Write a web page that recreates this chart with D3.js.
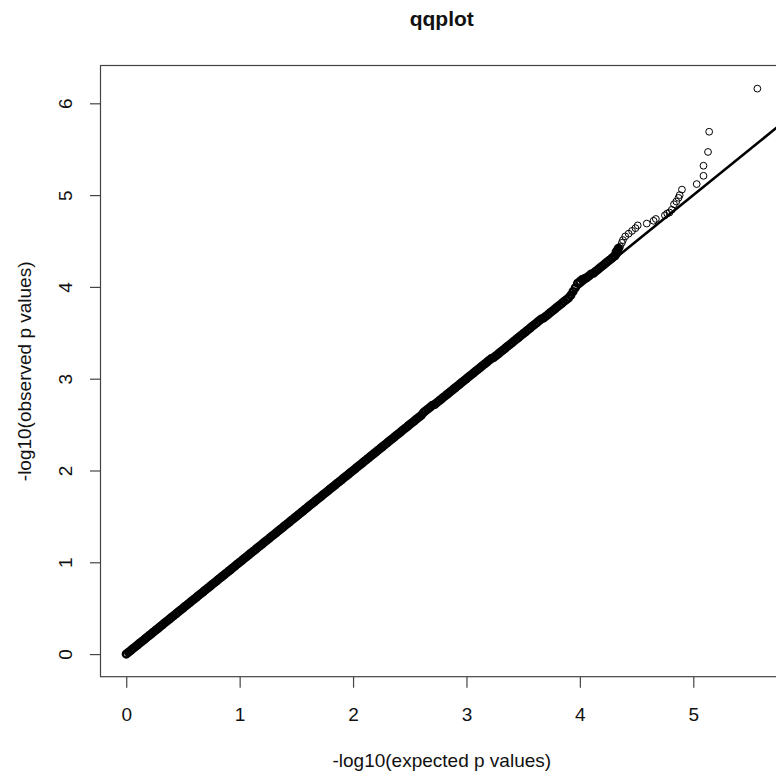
<!DOCTYPE html>
<html><head><meta charset="utf-8">
<script src="https://cdn.jsdelivr.net/npm/d3@7"></script>
<style>
body{margin:0;background:#fff}
svg{display:block}
text{font-family:"Liberation Sans",Arial,sans-serif;fill:#111}
</style>
</head><body>
<svg id="chart" width="776" height="779"></svg>
<script>
const chartTitle = "qqplot";
const xLabel = "-log10(expected p values)";
const yLabel = "-log10(observed p values)";
const xTicks = [0,1,2,3,4,5];
const yTicks = [0,1,2,3,4,5,6];
const ablineIntercept = 0;
const ablineSlope = 1;
const ablineStart = 0;

// dense part of the point cloud
const denseExpected = [
0.00,0.02,0.04,0.06,0.08,0.10,0.12,0.14,0.16,0.18,0.20,0.22,0.24,0.26,0.28,0.30,0.32,0.34,0.36,0.38,
0.40,0.42,0.44,0.46,0.48,0.50,0.52,0.54,0.56,0.58,0.60,0.62,0.64,0.66,0.68,0.70,0.72,0.74,0.76,0.78,
0.80,0.82,0.84,0.86,0.88,0.90,0.92,0.94,0.96,0.98,1.00,1.02,1.04,1.06,1.08,1.10,1.12,1.14,1.16,1.18,
1.20,1.22,1.24,1.26,1.28,1.30,1.32,1.34,1.36,1.38,1.40,1.42,1.44,1.46,1.48,1.50,1.52,1.54,1.56,1.58,
1.60,1.62,1.64,1.66,1.68,1.70,1.72,1.74,1.76,1.78,1.80,1.82,1.84,1.86,1.88,1.90,1.92,1.94,1.96,1.98,
2.00,2.02,2.04,2.06,2.08,2.10,2.12,2.14,2.16,2.18,2.20,2.22,2.24,2.26,2.28,2.30,2.32,2.34,2.36,2.38,
2.40,2.42,2.44,2.46,2.48,2.50,2.52,2.54,2.56,2.58,2.60,2.62,2.64,2.66,2.68,2.70,2.72,2.74,2.76,2.78,
2.80,2.82,2.84,2.86,2.88,2.90,2.92,2.94,2.96,2.98,3.00,3.02,3.04,3.06,3.08,3.10,3.12,3.14,3.16,3.18,
3.20,3.22,3.24,3.26,3.28,3.30,3.32,3.34,3.36,3.38,3.40,3.42,3.44,3.46,3.48,3.50,3.52,3.54,3.56,3.58,
3.60,3.62,3.64,3.66,3.68,3.70,3.72,3.74,3.76,3.78,3.80,3.82,3.84,3.86,3.88,3.90,3.92,3.94,3.96,3.98,
4.00,4.02,4.04,4.06,4.08,4.10,4.12,4.14,4.16,4.18,4.20,4.22,4.24,4.26,4.28,4.30,4.31,4.32,4.32,4.33,4.34
];
const denseObserved = [
0.00,0.02,0.04,0.06,0.08,0.10,0.12,0.14,0.16,0.18,0.20,0.22,0.24,0.26,0.28,0.30,0.32,0.34,0.36,0.38,
0.40,0.42,0.44,0.46,0.48,0.50,0.52,0.54,0.56,0.58,0.60,0.62,0.64,0.66,0.68,0.70,0.72,0.74,0.76,0.78,
0.80,0.82,0.84,0.86,0.88,0.90,0.92,0.94,0.96,0.98,1.00,1.02,1.04,1.06,1.08,1.10,1.12,1.14,1.16,1.18,
1.20,1.22,1.24,1.26,1.28,1.30,1.32,1.34,1.36,1.38,1.40,1.42,1.44,1.46,1.48,1.50,1.52,1.54,1.56,1.58,
1.60,1.62,1.64,1.66,1.68,1.70,1.72,1.74,1.76,1.78,1.80,1.82,1.84,1.86,1.88,1.90,1.92,1.94,1.96,1.98,
2.00,2.02,2.04,2.06,2.08,2.10,2.12,2.14,2.16,2.18,2.20,2.22,2.24,2.26,2.28,2.30,2.32,2.34,2.36,2.38,
2.40,2.42,2.44,2.46,2.48,2.50,2.52,2.54,2.56,2.58,2.60,2.63,2.65,2.67,2.69,2.71,2.72,2.74,2.76,2.78,
2.80,2.82,2.84,2.86,2.88,2.90,2.92,2.94,2.96,2.98,3.00,3.02,3.04,3.06,3.08,3.10,3.12,3.14,3.16,3.18,
3.20,3.22,3.23,3.25,3.27,3.29,3.31,3.33,3.35,3.37,3.39,3.41,3.43,3.45,3.47,3.49,3.51,3.53,3.55,3.57,
3.59,3.61,3.63,3.65,3.66,3.68,3.70,3.72,3.74,3.76,3.78,3.80,3.82,3.84,3.86,3.88,3.91,3.95,3.99,4.04,
4.06,4.08,4.09,4.10,4.12,4.14,4.15,4.17,4.19,4.21,4.23,4.25,4.27,4.29,4.31,4.33,4.34,4.36,4.38,4.40,4.42
];
// sparse upper tail
const tailExpected = [4.355,4.37,4.38,4.40,4.43,4.46,4.49,4.51,4.59,4.65,4.67,4.75,4.77,4.79,4.81,4.83,4.85,4.87,4.88,4.90,5.03,5.09,5.09,5.13,5.14,5.565];
const tailObserved = [4.44,4.48,4.51,4.55,4.58,4.61,4.64,4.67,4.69,4.72,4.74,4.78,4.80,4.81,4.84,4.90,4.93,4.97,5.00,5.06,5.12,5.21,5.32,5.47,5.69,6.16];

const svg = d3.select("#chart");
const box = {left:101, right:782.6, top:66, bottom:676.7};
const x = d3.scaleLinear().domain([-0.2226, 5.7876]).range([box.left, box.right]);
const y = d3.scaleLinear().domain([-0.2464, 6.4064]).range([box.bottom, box.top]);

svg.append("defs").append("clipPath").attr("id","plotclip")
  .append("rect").attr("x",box.left).attr("y",box.top)
  .attr("width",box.right-box.left).attr("height",box.bottom-box.top);

const plot = svg.append("g").attr("clip-path","url(#plotclip)");

const dense = denseExpected.map((e,i)=>({e, o:denseObserved[i]}));
const tail = tailExpected.map((e,i)=>({e, o:tailObserved[i]}));

plot.selectAll("circle.dense").data(dense).enter().append("circle")
  .attr("class","dense")
  .attr("cx",d=>x(d.e)).attr("cy",d=>y(d.o)).attr("r",3.4)
  .attr("fill","none").attr("stroke","#000").attr("stroke-width",2.4);

plot.selectAll("circle.tail").data(tail).enter().append("circle")
  .attr("class","tail")
  .attr("cx",d=>x(d.e)).attr("cy",d=>y(d.o)).attr("r",3.4)
  .attr("fill","none").attr("stroke","#000").attr("stroke-width",1);

const xd1 = x.domain()[1];
plot.append("line")
  .attr("x1",x(ablineStart)).attr("y1",y(ablineIntercept+ablineSlope*ablineStart))
  .attr("x2",x(xd1)).attr("y2",y(ablineIntercept+ablineSlope*xd1))
  .attr("stroke","#000").attr("stroke-width",2.6);

// frame
svg.append("rect").attr("x",box.left-0.5).attr("y",box.top-0.5)
  .attr("width",box.right-box.left).attr("height",box.bottom-box.top+0.5)
  .attr("fill","none").attr("stroke","#444").attr("stroke-width",1.2);

// x axis
const gx = svg.append("g").attr("transform",`translate(0,${box.bottom})`)
  .call(d3.axisBottom(x).tickValues(xTicks).tickSize(11).tickPadding(20).tickFormat(d3.format("d")));
gx.select(".domain").remove();
gx.selectAll(".tick line").attr("stroke","#444").attr("stroke-width",1.2);
gx.selectAll(".tick text").attr("font-size",19).attr("fill","#111")
  .style("font-family",'"Liberation Sans",Arial,sans-serif');

// y axis
const gy = svg.append("g").attr("transform",`translate(${box.left},0)`)
  .call(d3.axisLeft(y).tickValues(yTicks).tickSize(11).tickFormat(d3.format("d")));
gy.select(".domain").remove();
gy.selectAll(".tick line").attr("stroke","#444").attr("stroke-width",1.2);
gy.selectAll(".tick text").attr("font-size",19).attr("fill","#111")
  .style("font-family",'"Liberation Sans",Arial,sans-serif')
  .attr("x",null).attr("dy",null)
  .attr("text-anchor","middle")
  .attr("transform","translate(-29,0) rotate(-90)");

// titles
svg.append("text").attr("x",(box.left+box.right)/2).attr("y",26)
  .attr("text-anchor","middle").attr("font-size",21).attr("font-weight","bold").text(chartTitle);
svg.append("text").attr("x",(box.left+box.right)/2).attr("y",767)
  .attr("text-anchor","middle").attr("font-size",19).text(xLabel);
svg.append("text").attr("transform",`translate(31,${(box.top+box.bottom)/2}) rotate(-90)`)
  .attr("text-anchor","middle").attr("font-size",19).text(yLabel);
</script>
</body></html>
